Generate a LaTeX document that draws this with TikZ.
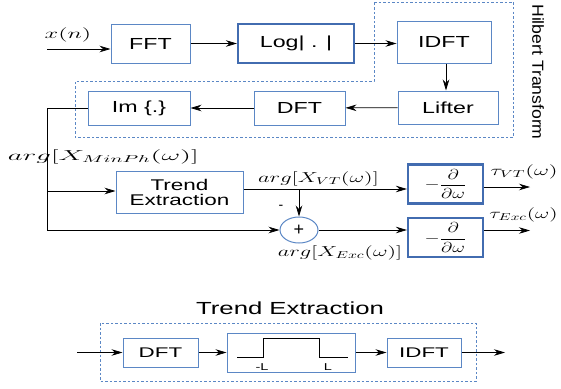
\documentclass[tikz,border=0pt]{standalone}
\usepackage{fontspec}
\setmainfont{Liberation Sans}
\usepackage{amsmath}
\usepackage{graphicx}
\usetikzlibrary{arrows.meta,shapes.geometric,positioning}
\definecolor{boxblue}{RGB}{91,135,197}
\definecolor{darkblue}{RGB}{66,108,176}
\newcommand{\wt}[1]{\scalebox{1.45}[1]{#1}}
\newcommand{\wm}[2][1.6]{\scalebox{#1}[1]{$#2$}}

\begin{document}
\begin{tikzpicture}[x=1pt,y=-1pt,>={Stealth[length=11pt,width=6.5pt]},line width=0.7pt,
  box/.style={draw=boxblue,line width=1pt,inner sep=0pt,font=\fontsize{16}{18}\selectfont},
  thickbox/.style={box,draw=darkblue,line width=2.2pt},
  hilbert/.style={draw=boxblue,line width=0.9pt,dash pattern=on 2.5pt off 2pt},
  lbl/.style={inner sep=0pt,font=\fontsize{14}{16}\selectfont}]
\useasboundingbox (0,0) rectangle (561,388);

% Hilbert transform part
\draw[hilbert] (374,2) -- (513,2) -- (513,137) -- (75,137) -- (75,81) -- (374,81) -- cycle;
\node[rotate=-90,inner sep=0pt,font=\fontsize{16}{18}\selectfont] (htlab) at (538,72) {\scalebox{1.1}[1]{Hilbert Transform}};

\node[box,minimum width=79pt,minimum height=39pt] (fft) at (150.5,43.5) {\wt{FFT}};
\node[thickbox,minimum width=116pt,minimum height=39pt] (log) at (296,43.5) {\wt{Log| . |}};
\node[box,minimum width=94pt,minimum height=42pt] (idft) at (444,42) {\wt{IDFT}};
\node[box,minimum width=100pt,minimum height=33pt] (lifter) at (448,107.5) {\wt{Lifter}};
\node[box,minimum width=91pt,minimum height=34pt] (dft) at (299.5,108) {\wt{DFT}};
\node[box,minimum width=102pt,minimum height=34pt] (im) at (139,108) {\wt{Im \{.\}}};

\coordinate (xin) at (47,49);
\node[lbl] (xlab) at (68,35) {\wm[1.7]{x(n)}};
\draw[->] (xin) -- (xin -| fft.west);
\draw[->] (fft) -- (log);
\draw[->] (log.east) -- (log.east -| idft.west);
\draw[->] ([xshift=2pt]idft.south) -- ([xshift=2pt]idft.south |- lifter.north);
\draw[->] (lifter) -- (dft);
\draw[->] (dft) -- (im);

% phase split
\node[box,minimum width=127pt,minimum height=42pt,align=center,font=\fontsize{15.5}{17}\selectfont] (trend) at (179.5,192) {\wt{Trend}\\[-2pt]\wt{Extraction}};
\node[ellipse,draw=boxblue,line width=1pt,minimum width=38pt,minimum height=26pt,inner sep=0pt,font=\fontsize{18}{20}\selectfont] (sum) at (299,230) {+};
\node[thickbox,minimum width=75pt,minimum height=39pt,font=\fontsize{14.5}{16}\selectfont] (d1) at (445.5,184) {\wm[1.35]{-\dfrac{\partial}{\partial\omega}}};
\node[thickbox,minimum width=75pt,minimum height=39pt,font=\fontsize{14.5}{16}\selectfont] (d2) at (445.5,237.5) {\wm[1.35]{-\dfrac{\partial}{\partial\omega}}};

\coordinate (rail) at (47,230);
\coordinate (tr) at (47,191);
\coordinate (vt) at (299,189);
\coordinate (o1) at (530,187);
\coordinate (o2) at (530,230.5);
\draw[->] (im.west) -| (rail) -- (sum.west);
\draw[->] (tr) -- (tr -| trend.west);
\draw[->] (trend.east |- vt) -- (vt -| d1.west);
\draw[->] (vt) -- (sum.north);
\draw[->] (sum.east) -- (sum.east -| d2.west);
\draw[->] (d1.east |- o1) -- (o1);
\draw[->] (d2.east |- o2) -- (o2);

\node[lbl] (minph) at (103.5,157) {\wm[2]{arg[X_{MinPh}(\omega)]}};
\node[lbl] (argvt) at (318.5,178.5) {\wm[1.57]{arg[X_{VT}(\omega)]}};
\node[lbl] (argexc) at (340,253) {\wm[1.56]{arg[X_{Exc}(\omega)]}};
\node[lbl] (minus) at (281,207) {-};
\node[lbl] (tauvt) at (524,172) {\wm[1.6]{\tau_{VT}(\omega)}};
\node[lbl] (tauexc) at (523.5,215) {\wm[1.52]{\tau_{Exc}(\omega)}};

% trend extraction detail
\node[inner sep=0pt,font=\fontsize{17.5}{20}\selectfont] (tetitle) at (290,308) {\scalebox{1.47}[1]{Trend Extraction}};
\draw[hilbert] (100,323) rectangle (476,381);
\node[box,minimum width=75pt,minimum height=29pt,font=\fontsize{14}{16}\selectfont] (dft2) at (160.5,352.5) {\scalebox{1.6}[1]{DFT}};
\node[box,minimum width=128pt,minimum height=39pt] (filt) at (291,352.5) {};
\node[box,minimum width=74pt,minimum height=29pt,font=\fontsize{14}{16}\selectfont] (idft2) at (424,352.5) {\scalebox{1.6}[1]{IDFT}};
\draw[line width=0.8pt] (237,357) -- (263,357) -- (263,338) -- (319,338) -- (319,357) -- (348,357);
\node[lbl,font=\fontsize{10}{12}\selectfont] (ml) at (262,367) {\wt{-L}};
\node[lbl,font=\fontsize{10}{12}\selectfont] (pl) at (328,367) {\wt{L}};

\coordinate (tin) at (77,352.5);
\coordinate (tout) at (505,352.5);
\draw[->] (tin) -- (dft2);
\draw[->] (dft2) -- (filt);
\draw[->] (filt) -- (idft2);
\draw[->] (idft2) -- (tout);
\end{tikzpicture}
\end{document}
